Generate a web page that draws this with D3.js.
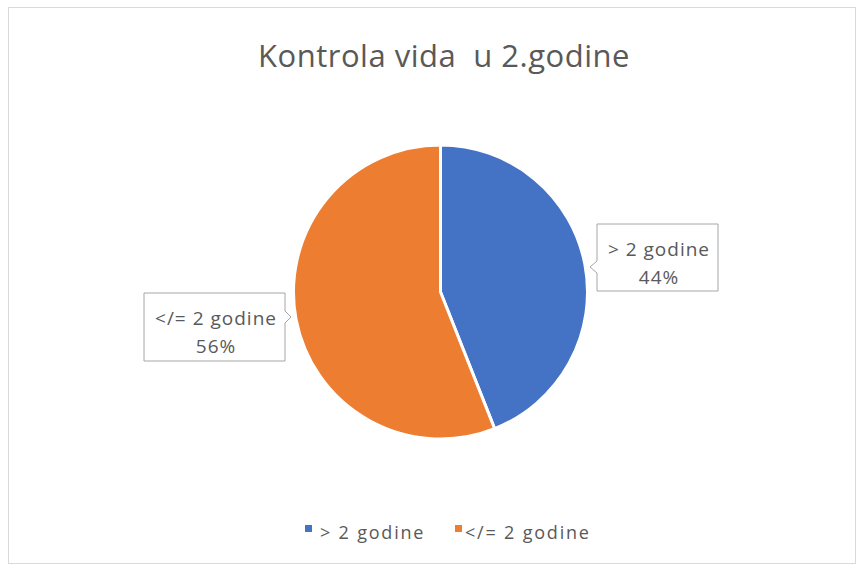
<!DOCTYPE html>
<html><head><meta charset="utf-8">
<script src="https://cdn.jsdelivr.net/npm/d3@7"></script>
<style>body{margin:0;background:#fff;}svg{display:block;font-family:"Open Sans","Liberation Sans",sans-serif;}</style>
</head><body>
<svg id="c" width="861" height="569"></svg>
<script>
const title = "Kontrola vida  u 2.godine";
const categories = ["> 2 godine", "</= 2 godine"];
const values = [44, 56];
const colors = ["#4472C4", "#ED7D31"];

const svg = d3.select("#c");
svg.append("rect").attr("x",8.5).attr("y",7.5).attr("width",847).attr("height",556)
  .attr("fill","#fff").attr("stroke","#d9d9d9");

svg.append("text").attr("x",444).attr("y",67).attr("text-anchor","middle")
  .attr("font-size",31).attr("letter-spacing",0.5).attr("fill","#595959").style("white-space","pre").text(title);

const cx = 440.5, cy = 292, r = 147;
const pie = d3.pie().sort(null).value(d => d)(values);
const arc = d3.arc().innerRadius(0).outerRadius(r);
const g = svg.append("g").attr("transform",`translate(${cx},${cy})`);
g.selectAll("path").data(pie).join("path").attr("d",arc)
  .attr("fill",(d,i)=>colors[i]).attr("stroke","#fff").attr("stroke-width",3);

// callout labels
const total = d3.sum(values);
const boxes = [
  {x:597, y:224, w:121, h:67, side:"left", py:267, tip:590},
  {x:144, y:293, w:141, h:68, side:"right", py:317, tip:291}
];
boxes.forEach((b,i)=>{
  let p;
  if(b.side==="left"){
    p = `M${b.x},${b.y} H${b.x+b.w} V${b.y+b.h} H${b.x} V${b.py+6} L${b.tip},${b.py} L${b.x},${b.py-6} Z`;
  } else {
    p = `M${b.x},${b.y} H${b.x+b.w} V${b.py-6} L${b.tip},${b.py} L${b.x+b.w},${b.py+6} V${b.y+b.h} H${b.x} Z`;
  }
  svg.append("path").attr("d",p).attr("fill","#fff").attr("stroke","#a6a6a6").attr("stroke-width",1);
  const tx = b.x + b.w/2 + 1.5;
  svg.append("text").attr("x",tx).attr("y",b.y+32).attr("text-anchor","middle")
    .attr("font-size",19).attr("letter-spacing",1).attr("fill","#595959").text(categories[i]);
  svg.append("text").attr("x",tx).attr("y",b.y+60).attr("text-anchor","middle")
    .attr("font-size",19).attr("letter-spacing",1).attr("fill","#595959").text(Math.round(values[i]/total*100)+"%");
});

// legend
const leg = [{x:305, tx:320},{x:455, tx:465}];
leg.forEach((l,i)=>{
  svg.append("rect").attr("x",l.x).attr("y",525).attr("width",7).attr("height",7).attr("fill",colors[i]);
  svg.append("text").attr("x",l.tx).attr("y",539).attr("font-size",18).attr("letter-spacing",1.8).attr("fill","#595959").text(categories[i]);
});
</script>
</body></html>
